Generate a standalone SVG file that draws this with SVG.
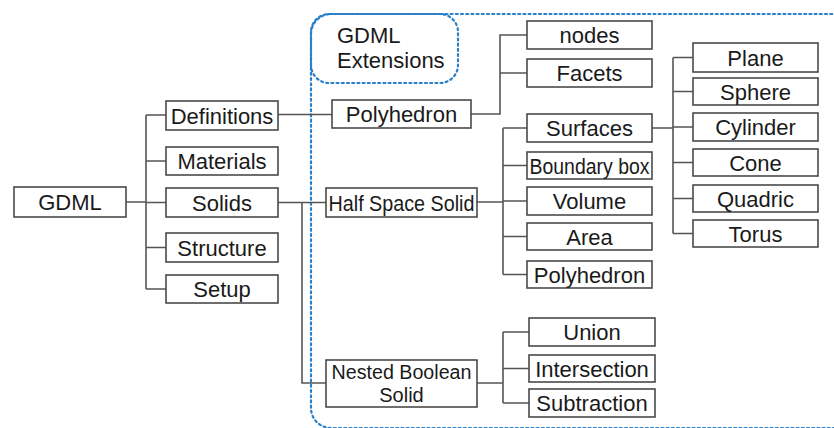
<svg xmlns="http://www.w3.org/2000/svg" width="834" height="428" viewBox="0 0 834 428">
<style>
.b{fill:#fff;stroke:#4a4a4a;stroke-width:1.6}
.t{font-family:"Liberation Sans",Arial,sans-serif;font-size:22px;fill:#1a1a1a;text-anchor:middle}
.c{fill:none;stroke:#555;stroke-width:1.6}
.d{fill:none;stroke:#2a7fc9;stroke-width:2.2;stroke-dasharray:2 3.2;stroke-linecap:round}
</style>
<rect width="834" height="428" fill="#fff"/>
<g id="region">
<rect class="d" x="311" y="14" width="560" height="414" rx="20"/>
</g>
<g id="ext-label">
<rect class="d" x="311" y="14" width="147" height="69" rx="18"/>
<text class="t" x="337" y="43" style="text-anchor:start">GDML</text>
<text class="t" x="337" y="68" style="text-anchor:start">Extensions</text>
</g>
<g id="connectors">
<path class="c" d="M126,202H146M146,115V289M146,115H166M146,161H166M146,202.5H166M146,247.5H166M146,289H166"/>
<path class="c" d="M278,114.5H332"/>
<path class="c" d="M471,114H500V35H527M500,73H527"/>
<path class="c" d="M278,202.5H326M302,202.5V383H326"/>
<path class="c" d="M477,202H503M503,128V274.5M503,128H527M503,165.5H527M503,201H527M503,236.5H527M503,274.5H527"/>
<path class="c" d="M652,128H673M673,57.5V233.5M673,57.5H693M673,91.5H693M673,127H693M673,162.5H693M673,198.5H693M673,233.5H693"/>
<path class="c" d="M477,383H503M503,332V403M503,332H529M503,368.5H529M503,403H529"/>
</g>
<g id="gdml"><rect class="b" x="14" y="187" width="112" height="30"/><text class="t" x="70" y="210">GDML</text></g>
<g id="definitions"><rect class="b" x="166" y="101" width="112" height="29"/><text class="t" x="222" y="123.5">Definitions</text></g>
<g id="materials"><rect class="b" x="166" y="147" width="112" height="28"/><text class="t" x="222" y="169">Materials</text></g>
<g id="solids"><rect class="b" x="166" y="188" width="112" height="29"/><text class="t" x="222" y="210.5">Solids</text></g>
<g id="structure"><rect class="b" x="166" y="233" width="112" height="29"/><text class="t" x="222" y="255.5">Structure</text></g>
<g id="setup"><rect class="b" x="166" y="275" width="112" height="28"/><text class="t" x="222" y="297">Setup</text></g>
<g id="polyhedron"><rect class="b" x="332" y="100" width="139" height="28"/><text class="t" x="401.5" y="122">Polyhedron</text></g>
<g id="nodes"><rect class="b" x="527" y="21" width="125" height="28"/><text class="t" x="589.5" y="43">nodes</text></g>
<g id="facets"><rect class="b" x="527" y="59" width="125" height="28"/><text class="t" x="589.5" y="81">Facets</text></g>
<g id="halfspace"><rect class="b" x="326" y="188" width="151" height="29"/><text class="t" x="401.5" y="210.5" textLength="146" lengthAdjust="spacingAndGlyphs">Half Space Solid</text></g>
<g id="surfaces"><rect class="b" x="527" y="114" width="125" height="28"/><text class="t" x="589.5" y="136">Surfaces</text></g>
<g id="bbox"><rect class="b" x="527" y="152" width="125" height="27"/><text class="t" x="589.5" y="173.5" textLength="120" lengthAdjust="spacingAndGlyphs">Boundary box</text></g>
<g id="volume"><rect class="b" x="527" y="187" width="125" height="28"/><text class="t" x="589.5" y="209">Volume</text></g>
<g id="area"><rect class="b" x="527" y="223" width="125" height="27"/><text class="t" x="589.5" y="244.5">Area</text></g>
<g id="polyhedron2"><rect class="b" x="527" y="261" width="125" height="27"/><text class="t" x="589.5" y="282.5">Polyhedron</text></g>
<g id="plane"><rect class="b" x="693" y="43" width="125" height="29"/><text class="t" x="755.5" y="65.5">Plane</text></g>
<g id="sphere"><rect class="b" x="693" y="78" width="125" height="27"/><text class="t" x="755.5" y="99.5">Sphere</text></g>
<g id="cylinder"><rect class="b" x="693" y="113" width="125" height="28"/><text class="t" x="755.5" y="135">Cylinder</text></g>
<g id="cone"><rect class="b" x="693" y="149" width="125" height="27"/><text class="t" x="755.5" y="170.5">Cone</text></g>
<g id="quadric"><rect class="b" x="693" y="185" width="125" height="27"/><text class="t" x="755.5" y="206.5">Quadric</text></g>
<g id="torus"><rect class="b" x="693" y="220" width="125" height="27"/><text class="t" x="755.5" y="241.5">Torus</text></g>
<g id="nested"><rect class="b" x="326" y="360" width="151" height="47"/><text class="t" x="401.5" y="379" style="font-size:20px" textLength="140" lengthAdjust="spacingAndGlyphs">Nested Boolean</text><text class="t" x="401.5" y="402" style="font-size:20px">Solid</text></g>
<g id="union"><rect class="b" x="529" y="318" width="126" height="28"/><text class="t" x="592" y="340">Union</text></g>
<g id="intersection"><rect class="b" x="529" y="355" width="126" height="27"/><text class="t" x="592" y="376.5">Intersection</text></g>
<g id="subtraction"><rect class="b" x="529" y="389" width="126" height="28"/><text class="t" x="592" y="411">Subtraction</text></g>
</svg>
